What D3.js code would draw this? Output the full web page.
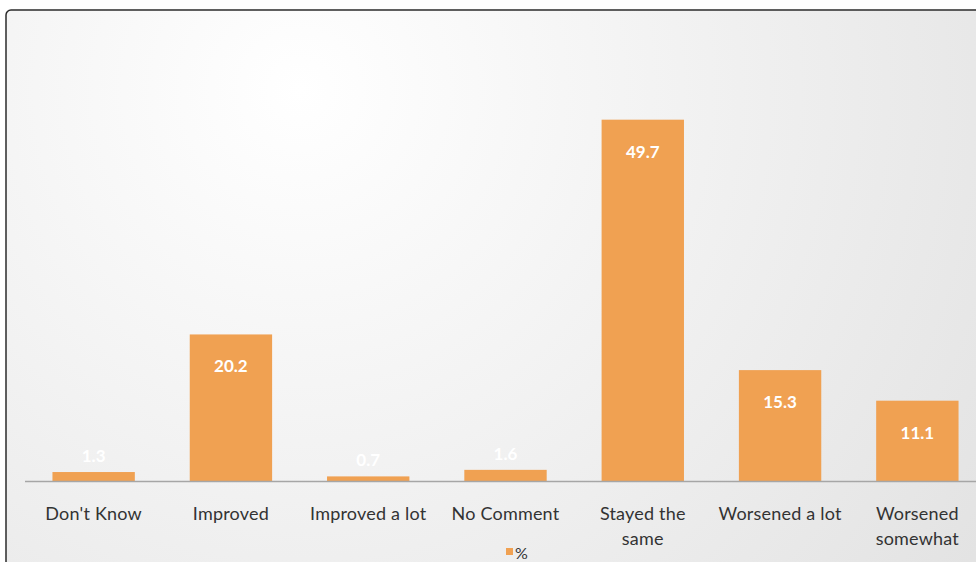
<!DOCTYPE html>
<html>
<head>
<meta charset="utf-8">
<script src="https://cdn.jsdelivr.net/npm/d3@7"></script>
<style>
  body { margin: 0; background: #fff; }
  svg { display: block; }
</style>
</head>
<body>
<svg id="chart" width="976" height="562"></svg>
<script>
// Data
const categories = ["Don't Know", "Improved", "Improved a lot", "No Comment", "Stayed the same", "Worsened a lot", "Worsened somewhat"];
const values = [1.3, 20.2, 0.7, 1.6, 49.7, 15.3, 11.1];
const seriesName = "%";

const svg = d3.select("#chart");
const W = 976, H = 562;

// soft background gradient like the office chart area
const defs = svg.append("defs");
const grad = defs.append("radialGradient")
    .attr("id", "bg")
    .attr("gradientUnits", "userSpaceOnUse")
    .attr("cx", 300).attr("cy", 90).attr("r", 850);
grad.append("stop").attr("offset", "0%").attr("stop-color", "#ffffff");
grad.append("stop").attr("offset", "100%").attr("stop-color", "#e2e2e2");

svg.append("rect")
    .attr("x", 6).attr("y", 10)
    .attr("width", 1000).attr("height", 600)
    .attr("rx", 5)
    .attr("fill", "url(#bg)")
    .attr("stroke", "#2b2b2b")
    .attr("stroke-width", 1.5);

const baseY = 481.5;

const x = d3.scaleBand()
    .domain(categories)
    .range([25, 986])
    .paddingInner(0.4)
    .paddingOuter(0.2);

const y = d3.scaleLinear()
    .domain([0, 50])
    .range([baseY, baseY - 364]);

const data = categories.map((c, i) => ({name: c, value: values[i]}));

// bars
svg.append("g").selectAll("rect")
  .data(data)
  .join("rect")
    .attr("x", d => x(d.name))
    .attr("y", d => y(d.value))
    .attr("width", x.bandwidth())
    .attr("height", d => y(0) - y(d.value))
    .attr("fill", "#f0a152");

// axis line
svg.append("line")
    .attr("x1", 25).attr("x2", W)
    .attr("y1", baseY).attr("y2", baseY)
    .attr("stroke", "#a6a6a6")
    .attr("stroke-width", 1.5);

// value labels
svg.append("g").selectAll("text")
  .data(data)
  .join("text")
    .attr("x", d => x(d.name) + x.bandwidth() / 2)
    .attr("y", d => (y(0) - y(d.value) > 40) ? y(d.value) + 38 : y(d.value) - 10)
    .attr("text-anchor", "middle")
    .attr("fill", "#ffffff")
    .style("font-family", "Lato, 'Open Sans', sans-serif")
    .style("font-weight", "bold")
    .style("font-size", "17px")
    .text(d => d.value.toFixed(1));

// category labels, wrapped like the original
const wraps = {"Stayed the same": ["Stayed the", "same"], "Worsened somewhat": ["Worsened", "somewhat"]};
const lab = svg.append("g").selectAll("text")
  .data(data)
  .join("text")
    .attr("x", d => x(d.name) + x.bandwidth() / 2)
    .attr("y", 520)
    .attr("text-anchor", "middle")
    .attr("fill", "#333333")
    .style("font-family", "Lato, 'Open Sans', sans-serif")
    .style("font-size", "18px")
    .style("letter-spacing", "0.2px");
lab.each(function(d) {
  const lines = wraps[d.name] || [d.name];
  const t = d3.select(this);
  lines.forEach((l, i) => {
    t.append("tspan")
      .attr("x", x(d.name) + x.bandwidth() / 2)
      .attr("dy", i === 0 ? 0 : 25)
      .text(l);
  });
});

// legend
const leg = svg.append("g").attr("transform", "translate(506,548)");
leg.append("rect").attr("width", 7).attr("height", 7).attr("fill", "#f0a152");
leg.append("text")
    .attr("x", 9).attr("y", 11)
    .attr("fill", "#333333")
    .style("font-family", "Lato, 'Open Sans', sans-serif")
    .style("font-size", "16px")
    .text(seriesName);
</script>
</body>
</html>
